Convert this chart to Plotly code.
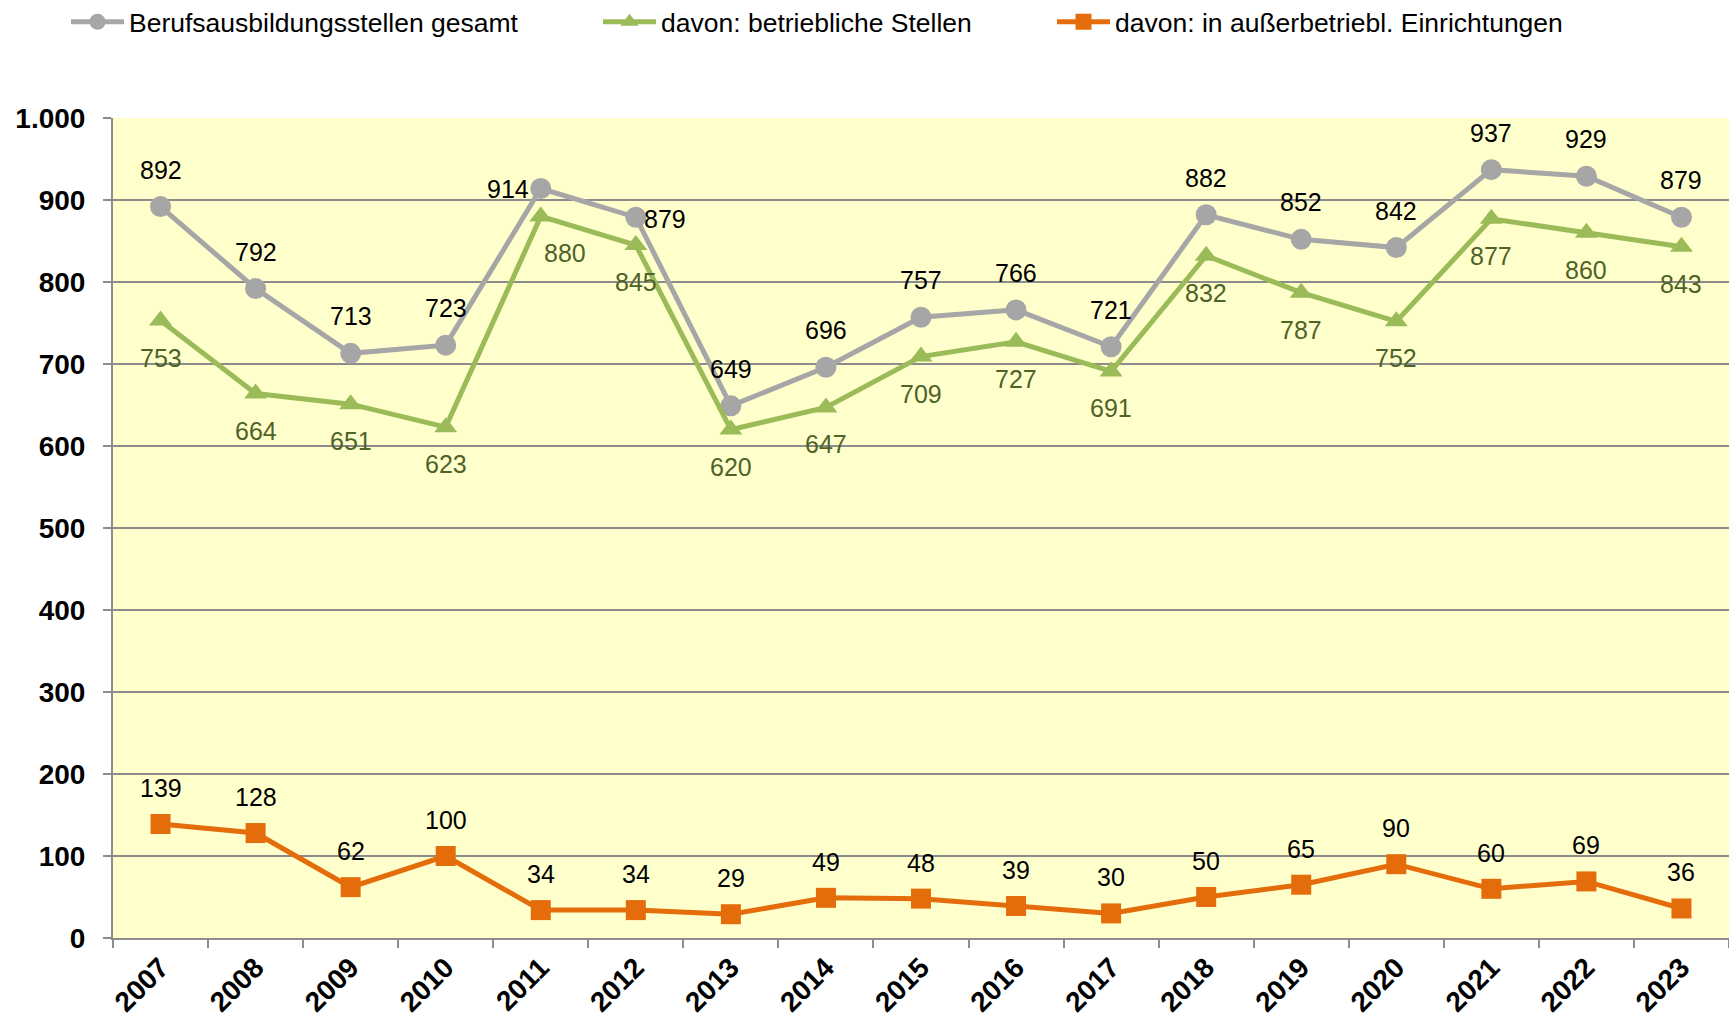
import plotly.graph_objects as go

# Daten (Berufsausbildungsstellen je Jahr)
years = [str(y) for y in range(2007, 2024)]
gesamt = [892, 792, 713, 723, 914, 879, 649, 696, 757, 766, 721, 882, 852, 842, 937, 929, 879]
betrieblich = [753, 664, 651, 623, 880, 845, 620, 647, 709, 727, 691, 832, 787, 752, 877, 860, 843]
ausserbetrieblich = [139, 128, 62, 100, 34, 34, 29, 49, 48, 39, 30, 50, 65, 90, 60, 69, 36]

names = ['Berufsausbildungsstellen gesamt',
         'davon: betriebliche Stellen',
         'davon: in außerbetriebl. Einrichtungen']

# figure geometry (pixels)
W, H = 1729, 1024
ML, MR, MT, MB = 113, 0, 118, 86

FONT = 'Liberation Sans, Arial, sans-serif'
GRID = '#8c8c8c'

series = [
    (gesamt, '#a6a6a6', 'circle', 21, '#000000', 37, 'legend'),
    (betrieblich, '#9bbb59', 'triangle-up', 20, '#4f6228', -37, 'legend2'),
    (ausserbetrieblich, '#e46c0a', 'square', 20, '#000000', 36, 'legend3'),
]

# individually placed labels (series index, year) -> (xshift, yshift, xanchor)
label_override = {
    (0, '2011'): (-10, 0, 'right'),
    (0, '2012'): (6, -2, 'left'),
    (1, '2011'): (24, -37, 'center'),
}

fig = go.Figure()
annotations = []
for i, (vals, color, symbol, size, lblcolor, yshift, leg) in enumerate(series):
    fig.add_trace(go.Scatter(
        x=years, y=vals, name=names[i], mode='lines+markers',
        line=dict(color=color, width=5),
        marker=dict(symbol=symbol, size=size, color=color),
        legend=leg, showlegend=True,
    ))
    for k, (yr, v) in enumerate(zip(years, vals)):
        xs, ys, xa = label_override.get((i, yr), (0, yshift, 'center'))
        annotations.append(dict(
            x=k, y=v, text=str(v), showarrow=False,
            xshift=xs, yshift=ys, xanchor=xa, yanchor='middle',
            font=dict(family=FONT, size=25, color=lblcolor),
        ))

legend_style = dict(orientation='h', yanchor='middle', xanchor='left',
                    xref='container', yref='container', visible=True,
                    font=dict(family=FONT, size=26.5, color='#000000'),
                    bgcolor='rgba(0,0,0,0)', itemwidth=53)

LEG_Y = 1 - 22 / H

fig.update_layout(
    width=W, height=H,
    margin=dict(l=ML, r=MR, t=MT, b=MB, autoexpand=False),
    paper_bgcolor='white',
    plot_bgcolor='#ffffcc',
    separators=',.',
    showlegend=True,
    annotations=annotations,
    legend=dict(x=66 / W, y=LEG_Y, **legend_style),
    legend2=dict(x=598 / W, y=LEG_Y, **legend_style),
    legend3=dict(x=1052 / W, y=LEG_Y, **legend_style),
    xaxis=dict(
        type='category', range=[-0.5, len(years) - 0.5], automargin=False,
        tickson='boundaries', ticks='outside', ticklen=8, tickwidth=2,
        tickcolor=GRID, showgrid=False, showline=True, linecolor=GRID,
        linewidth=2, tickangle=-45,
        tickfont=dict(family=FONT, size=28, color='#000000', weight='bold'),
    ),
    yaxis=dict(
        range=[0, 1000], dtick=100, tickformat=',d', automargin=False,
        showgrid=True, gridcolor=GRID, gridwidth=1.5,
        zeroline=False, showline=True, linecolor=GRID, linewidth=2,
        ticks='outside', ticklen=8, tickwidth=1.5, tickcolor=GRID,
        ticklabelstandoff=12,
        tickfont=dict(family=FONT, size=28, color='#000000', weight='bold'),
    ),
)

# drop the default page margin so the figure sits at the window origin
fig.write_html('out.html', config={'displayModeBar': False},
               post_script="document.body.style.margin='0';")
